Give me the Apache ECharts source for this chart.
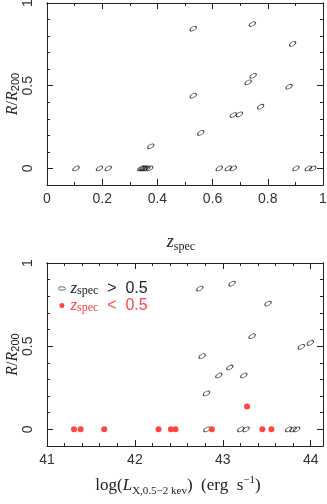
<!DOCTYPE html>
<html><head><meta charset="utf-8">
<script src="https://cdn.jsdelivr.net/npm/echarts@6/dist/echarts.min.js"></script>
<style>html,body{margin:0;padding:0;background:#fff}#c{width:327px;height:504px}</style>
</head><body><div id="c"></div>
<script>
// ---- Top panel: z_spec vs R/R200 ----
const zHigh = [0.624,0.657,0.675,0.902,0.947,0.963,0.530,0.744,0.890,0.747,0.729,0.877,0.530,0.774,0.675,0.697,0.557];
const rHighTop = [0,0,0,0,0,0,0.845,0.873,0.753,0.560,0.520,0.494,0.440,0.373,0.323,0.327,0.215];
const zLow = [0.105,0.190,0.222,0.340,0.345,0.350,0.355,0.362,0.372,0.376];
const rLowTop = [0,0,0,0,0,0,0,0,0,0.134];
// ---- Bottom panel: log L_X vs R/R200 ----
const lHigh = [42.82,43.205,43.265,43.75,43.80,43.84,42.739,43.106,43.515,43.333,43.894,43.996,42.765,43.08,42.955,43.239,42.815];
const rHighBot = [0,0,0,0,0,0,0.846,0.876,0.756,0.560,0.496,0.520,0.440,0.372,0.324,0.324,0.216];
const lLow = [41.307,41.383,41.651,42.269,42.409,42.462,42.875,43.45,43.553,43.276];
const rLowBot = [0,0,0,0,0,0,0,0,0,0.138];
// ---- ticks ----
const xTopMajor = [0,0.2,0.4,0.6,0.8,1];
const xTopMinor = [0.1,0.3,0.5,0.7,0.9];
const xBotMajor = [41,42,43,44];
const xBotMinor = [41.2,41.4,41.6,41.8,42.2,42.4,42.6,42.8,43.2,43.4,43.6,43.8];
const yMajor = [0,0.5,1];
const yMinor = [0.1,0.2,0.3,0.4,0.6,0.7,0.8,0.9];

const ELL = 'path://M0,5A10,5,0,1,1,20,5A10,5,0,1,1,0,5Z';
const AX = '#222';
const LBL = '#333';
const SERIF = 'Liberation Serif';
const SANS = 'Liberation Sans';

function pairs(a,b){return a.map((v,i)=>[v,b[i]]);}

const grids = [
  {left:47, top:3, width:276, height:182, containLabel:false, outerBoundsMode:'none'},
  {left:47, top:263, width:276, height:183, containLabel:false, outerBoundsMode:'none'}
];

const xAxes = [], yAxes = [];
function mkX(g, pos, vals, len, labels, min, max, extra){
  xAxes.push(Object.assign({
    type:'value', gridIndex:g, position:pos, min:min, max:max, nameMoveOverlap:false,
    axisLine:{show:labels!==null || pos==='top' ? true:false, onZero:false, lineStyle:{color:AX, width:1}},
    axisTick:{show:true, inside:true, length:len, customValues:vals, lineStyle:{color:AX, width:1}},
    axisLabel:labels ? {show:true, customValues:vals, color:LBL, fontFamily:SANS, fontSize:14, margin:7, formatter:v=>String(+v.toFixed(2))} : {show:false},
    splitLine:{show:false}
  }, extra||{}));
}
function mkY(g, pos, vals, len, labels, extra){
  yAxes.push(Object.assign({
    type:'value', gridIndex:g, position:pos, min:-0.1, max:1, nameMoveOverlap:false,
    axisLine:{show:true, onZero:false, lineStyle:{color:AX, width:1}},
    axisTick:{show:true, inside:true, length:len, customValues:vals, lineStyle:{color:AX, width:1}},
    axisLabel:labels ? {show:true, customValues:vals, rotate:90, color:LBL, fontFamily:SANS, fontSize:14, margin:12, formatter:v=>String(+v.toFixed(2))} : {show:false},
    splitLine:{show:false}
  }, extra||{}));
}
const yName = {
  name:'{i|R}{n|/}{i|R}{s|200}', nameLocation:'middle', nameGap:26,
  nameTextStyle:{rich:{
    i:{fontFamily:SERIF, fontStyle:'italic', fontSize:16, color:'#222', lineHeight:16, verticalAlign:'middle'},
    n:{fontFamily:SERIF, fontSize:16, color:'#222', lineHeight:16, verticalAlign:'middle'},
    s:{fontFamily:SANS, fontSize:11, color:'#222', lineHeight:6, verticalAlign:'bottom'}
  }}
};
// grid 0
mkX(0,'bottom',xTopMajor,6,true,0,1,{
  name:'{i|z}{s|spec}', nameLocation:'middle', nameGap:46,
  nameTextStyle:{padding:[0,8,0,0], rich:{
    i:{fontFamily:SERIF, fontStyle:'italic', fontSize:18, color:'#222', lineHeight:22, verticalAlign:'middle'},
    s:{fontFamily:SERIF, fontSize:12, color:'#222', lineHeight:11, verticalAlign:'bottom'}
  }}
});
mkX(0,'bottom',xTopMinor,3,null,0,1);
mkX(0,'top',xTopMajor,6,null,0,1);
mkX(0,'top',xTopMinor,3,null,0,1);
mkY(0,'left',yMajor,6,true,yName);
mkY(0,'left',yMinor,3,null);
mkY(0,'right',yMajor,6,null);
mkY(0,'right',yMinor,3,null);
// grid 1
mkX(1,'bottom',xBotMajor,6,true,41,44.14,{
  name:'{n|log(}{i|L}{s|X,0.5−2 kev}{n|)  (erg  s}{p|−1}{n|)}', nameLocation:'middle', nameGap:29,
  nameTextStyle:{padding:[0,14,0,0], rich:{
    n:{fontFamily:SERIF, fontSize:17, color:'#222', lineHeight:22, verticalAlign:'middle'},
    i:{fontFamily:SERIF, fontStyle:'italic', fontSize:17, color:'#222', lineHeight:22, verticalAlign:'middle'},
    s:{fontFamily:SERIF, fontSize:11, color:'#222', lineHeight:10, verticalAlign:'bottom'},
    p:{fontFamily:SERIF, fontSize:11, color:'#222', lineHeight:10, verticalAlign:'top'}
  }}
});
mkX(1,'bottom',xBotMinor,3,null,41,44.14);
mkX(1,'top',xBotMajor,6,null,41,44.14);
mkX(1,'top',xBotMinor,3,null,41,44.14);
mkY(1,'left',yMajor,6,true,yName);
mkY(1,'left',yMinor,3,null);
mkY(1,'right',yMajor,6,null);
mkY(1,'right',yMinor,3,null);

const hollow = {symbol:ELL, symbolSize:[7,3.6], symbolRotate:30,
  itemStyle:{color:'rgba(0,0,0,0)', borderColor:'#111', borderWidth:0.8}};
const filled = {symbol:'circle', symbolSize:6, itemStyle:{color:'#ff4444', opacity:1}};

const series = [
  Object.assign({type:'scatter', name:'high', xAxisIndex:0, yAxisIndex:0, data:pairs(zHigh,rHighTop), silent:true}, hollow),
  Object.assign({type:'scatter', name:'high0', xAxisIndex:0, yAxisIndex:0, data:pairs(zLow,rLowTop), silent:true}, hollow),
  Object.assign({type:'scatter', name:'high', xAxisIndex:4, yAxisIndex:4, data:pairs(lHigh,rHighBot), silent:true}, hollow),
  Object.assign({type:'scatter', name:'low', xAxisIndex:4, yAxisIndex:4, data:pairs(lLow,rLowBot), silent:true}, filled)
];

const legRich = {
  i:{fontFamily:SERIF, fontStyle:'italic', fontSize:17, lineHeight:16, verticalAlign:'middle'},
  s:{fontFamily:SERIF, fontSize:12, lineHeight:5, verticalAlign:'bottom'},
  t:{fontFamily:SANS, fontSize:16, lineHeight:16, verticalAlign:'middle'}
};
const chart = echarts.init(document.getElementById('c'), null, {renderer:'canvas'});
chart.setOption({
  animation:false,
  backgroundColor:'#fff',
  grid:grids,
  xAxis:xAxes,
  yAxis:yAxes,
  legend:{
    left:58, top:280, orient:'vertical', itemGap:0, itemWidth:7, itemHeight:5,
    selectedMode:false, padding:0,
    data:[
      {name:'high', textStyle:{color:'#222'}, icon:ELL, itemStyle:{color:'rgba(0,0,0,0)', borderColor:'#111', borderWidth:0.8}},
      {name:'low', textStyle:{color:'#ff4444'}, icon:'circle'}
    ],
    formatter:n => n==='high' ? '{i|z}{s|spec}{t|  >  0.5}' : '{i|z}{s|spec}{t|  <  0.5}',
    textStyle:{rich:legRich, padding:[0,0,0,0]}
  },
  series:series
});
</script></body></html>
